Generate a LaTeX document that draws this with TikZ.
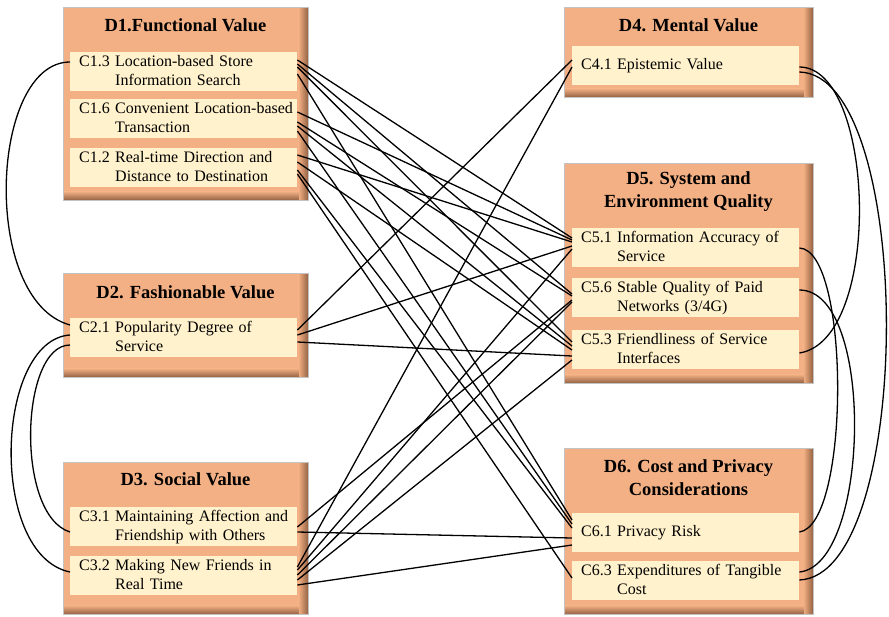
\documentclass[tikz,border=0pt]{standalone}
\usepackage{fontspec}
\setmainfont{Liberation Serif}
\usetikzlibrary{calc}
\definecolor{peach}{RGB}{243,176,132}
\definecolor{peachdark}{RGB}{145,95,65}
\definecolor{cream}{RGB}{255,242,204}
\definecolor{bordergray}{RGB}{195,195,195}
\newcommand{\ctwo}[3]{\begin{tabular}{@{}l@{\ }l@{}}#1&#2\\&#3\end{tabular}}
\newcommand{\dboxdraw}[5]{%
  \node[dbox, minimum width=#4pt, minimum height=#5pt] (#1) at (#2,#3) {};
  \shade[left color=peach, right color=peachdark] ([xshift=-10pt]#1.north east) rectangle (#1.south east);
  \shade[top color=peach, bottom color=peachdark] ([yshift=9pt]#1.south west) rectangle ([xshift=-10pt]#1.south east);
  \draw[bordergray, line width=0.8pt] (#1.north west) rectangle (#1.south east);
}
\tikzset{
  dbox/.style={draw=none, fill=peach, inner sep=0pt, anchor=north west},
  crit/.style={fill=cream, minimum width=227pt, minimum height=39pt, text width=209pt,
    inner xsep=9pt, inner ysep=0pt, align=left, anchor=north west,
    font=\fontsize{16}{19}\selectfont},
  dtitle/.style={font=\fontsize{18.5}{23}\selectfont\bfseries, align=center},
  link/.style={line width=1.3pt, black},
}
\begin{document}
\begin{tikzpicture}[x=1pt,y=-1pt]
\useasboundingbox (0,0) rectangle (889,616);
% dimension boxes
\dboxdraw{d1}{63}{7}{245}{193}
\dboxdraw{d2}{63}{273}{245}{104}
\dboxdraw{d3}{63}{462}{245}{152}
\dboxdraw{d4}{564}{7}{249}{90}
\dboxdraw{d5}{564}{163}{249}{220}
\dboxdraw{d6}{564}{448}{249}{166}
% titles
\node[dtitle] (d1t) at (185.5,25) {D1.Functional Value};
\node[dtitle] (d2t) at (185.5,292) {D2. Fashionable Value};
\node[dtitle] (d3t) at (185.5,479) {D3. Social Value};
\node[dtitle] (d4t) at (688.5,25) {D4. Mental Value};
\node[dtitle] (d5t) at (688.5,192) {D5. System and\\Environment Quality};
\node[dtitle] (d6t) at (688.5,478) {D6. Cost and Privacy\\Considerations};
% criteria
\node[crit] (c13) at (70,52) {\ctwo{C1.3}{Location-based Store}{Information Search}};
\node[crit] (c16) at (70,99) {\ctwo{C1.6}{Convenient Location-based}{Transaction}};
\node[crit] (c12) at (70,148) {\ctwo{C1.2}{Real-time Direction and}{Distance to Destination}};
\node[crit] (c21) at (70,318) {\ctwo{C2.1}{Popularity Degree of}{Service}};
\node[crit] (c31) at (70,507) {\ctwo{C3.1}{Maintaining Affection and}{Friendship with Others}};
\node[crit] (c32) at (70,556) {\ctwo{C3.2}{Making New Friends in}{Real Time}};
\node[crit] (c41) at (572,46) {C4.1 Epistemic Value};
\node[crit] (c51) at (572,228) {\ctwo{C5.1}{Information Accuracy of}{Service}};
\node[crit] (c56) at (572,278) {\ctwo{C5.6}{Stable Quality of Paid}{Networks (3/4G)}};
\node[crit] (c53) at (572,330) {\ctwo{C5.3}{Friendliness of Service}{Interfaces}};
\node[crit] (c61) at (572,513) {C6.1 Privacy Risk};
\node[crit] (c63) at (572,561) {\ctwo{C6.3}{Expenditures of Tangible}{Cost}};
% straight links
\draw[link] ($(c13.north east)+(0,8)$) -- ($(c51.north west)+(0,10)$);
\draw[link] ($(c13.north east)+(0,12)$) -- ($(c56.north west)+(0,16)$);
\draw[link] ($(c13.north east)+(0,15)$) -- ($(c53.north west)+(0,12)$);
\draw[link] ($(c13.north east)+(0,22)$) -- ($(c61.north west)+(0,7)$);
\draw[link] ($(c16.north east)+(0,13)$) -- ($(c51.north west)+(0,12)$);
\draw[link] ($(c16.north east)+(0,23)$) -- ($(c56.north west)+(0,18)$);
\draw[link] ($(c16.north east)+(0,27)$) -- ($(c53.north west)+(0,16)$);
\draw[link] ($(c16.north east)+(0,32)$) -- ($(c61.north west)+(0,11)$);
\draw[link] ($(c12.north east)+(0,7)$) -- ($(c51.north west)+(0,14)$);
\draw[link] ($(c12.north east)+(0,14)$) -- ($(c53.north west)+(0,20)$);
\draw[link] ($(c12.north east)+(0,22)$) -- ($(c61.north west)+(0,15)$);
\draw[link] ($(c12.north east)+(0,26)$) -- ($(c63.north west)+(0,17)$);
\draw[link] ($(c21.north east)+(0,12)$) -- ($(c41.north west)+(0,14)$);
\draw[link] ($(c21.north east)+(0,17)$) -- ($(c51.north west)+(0,18)$);
\draw[link] ($(c21.north east)+(0,24)$) -- ($(c53.north west)+(0,26)$);
\draw[link] ($(c31.north east)+(0,20)$) -- ($(c56.north west)+(0,22)$);
\draw[link] ($(c31.north east)+(0,25)$) -- ($(c61.north west)+(0,25)$);
\draw[link] ($(c32.north east)+(0,11)$) -- ($(c41.north west)+(0,21)$);
\draw[link] ($(c32.north east)+(0,14)$) -- ($(c51.north west)+(0,21)$);
\draw[link] ($(c32.north east)+(0,19)$) -- ($(c56.north west)+(0,24)$);
\draw[link] ($(c32.north east)+(0,24)$) -- ($(c53.north west)+(0,30)$);
\draw[link] ($(c32.north east)+(0,29)$) -- ($(c61.north west)+(0,32)$);
% left curves
\draw[link] ($(c13.north west)+(0,10)$) .. controls +(-80,0) and +(-90,-25) .. ($(c21.north west)+(0,7)$);
\draw[link] ($(c21.north west)+(0,17)$) .. controls +(-75,5) and +(-82,-17) .. ($(c32.north west)+(0,16)$);
\draw[link] ($(c21.north west)+(0,27)$) .. controls +(-50,0) and +(-55,-17) .. ($(c31.north west)+(0,25)$);
% right curves
\draw[link] ($(c41.north east)+(0,21)$) .. controls +(76,0) and +(84,-13) .. ($(c53.north east)+(0,23)$);
\draw[link] ($(c41.north east)+(0,26)$) .. controls +(116,3) and +(116,-5) .. ($(c63.north east)+(0,19)$);
\draw[link] ($(c51.north east)+(0,20)$) .. controls +(51,2) and +(51,-7) .. ($(c61.north east)+(0,19)$);
\draw[link] ($(c56.north east)+(0,12)$) .. controls +(76,0) and +(71,-7) .. ($(c63.north east)+(0,11)$);
\end{tikzpicture}
\end{document}
